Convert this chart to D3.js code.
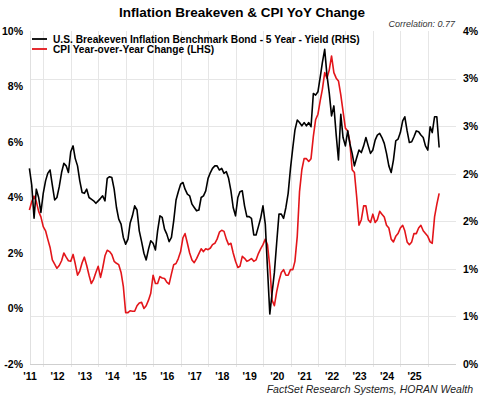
<!DOCTYPE html>
<html>
<head>
<meta charset="utf-8">
<script src="https://cdn.jsdelivr.net/npm/d3@7"></script>
<style>
  body { margin: 0; background: #fff; }
  svg { display: block; font-family: "Liberation Sans", Arial, sans-serif; }
</style>
</head>
<body>
<script>
// monthly series, first point = June 2011 (plotted at month end)
const firstMonth = [2011, 5]

// 5 year breakeven, % (right axis)
const breakeven = [
  2.35, 2.15, 1.75, 2.1, 2.0, 1.82, 2.05, 2.2, 2.29, 2.33,
  2.15, 1.97, 2.0, 2.13, 2.3, 2.41, 2.38, 2.3, 2.55, 2.62,
  2.47, 2.38, 2.2, 2.06, 2.05, 2.1, 2.0, 1.98, 1.96, 1.93,
  1.96, 1.99, 2.02, 1.96, 2.23, 2.25, 2.24, 2.1, 1.88, 1.74,
  1.68, 1.52, 1.44, 1.5, 1.69, 1.78, 1.9, 1.85, 1.6, 1.47,
  1.33, 1.25, 1.38, 1.48, 1.45, 1.37, 1.6, 1.78, 1.76, 1.62,
  1.56, 1.47, 1.52, 1.72, 1.97, 2.07, 2.16, 2.18, 2.1, 2.04,
  2.02, 1.92, 1.88, 1.84, 1.85, 2.0, 2.02, 2.08, 2.23, 2.3,
  2.35, 2.38, 2.38, 2.33, 2.35, 2.29, 2.31, 2.23, 2.08, 1.88,
  1.78, 2.0, 2.07, 2.08, 1.9, 1.77, 1.77, 1.75, 1.55, 1.55,
  1.65, 1.75, 1.9, 1.68, 1.15, 0.6, 0.85, 1.1, 1.45, 1.8,
  1.8, 1.75, 1.88, 2.05, 2.35, 2.6, 2.81, 2.93, 2.9, 2.86,
  2.9, 2.86, 2.9, 2.85, 3.25, 3.23, 3.27, 3.45, 3.62, 3.78,
  3.47, 3.25, 2.98, 3.1, 2.75, 2.45, 3.0, 2.72, 2.62, 2.8,
  2.65, 2.53, 2.38, 2.48, 2.57, 2.54, 2.62, 2.72, 2.62, 2.53,
  2.57, 2.69, 2.75, 2.77, 2.72, 2.65, 2.53, 2.38, 2.3, 2.45,
  2.68, 2.7, 2.78, 2.92, 2.97, 2.8, 2.66, 2.67, 2.73, 2.8,
  2.79, 2.75, 2.72, 2.62, 2.57, 2.85, 2.78, 2.97, 2.97, 2.6,
]

// CPI year over year, % (left axis)
const cpiYoY = [
  3.55, 3.85, 4.05, 3.85, 3.5, 3.3, 2.95, 2.8, 2.5, 2.2,
  1.75, 1.6, 1.45, 1.55, 1.72, 2.0, 1.85, 1.72, 1.7, 1.95,
  1.62, 1.2, 1.35, 1.65, 1.85, 1.55, 1.2, 0.9, 1.05, 1.3,
  1.52, 1.12, 1.45, 1.9, 2.1, 2.05, 1.95, 1.7, 1.63, 1.58,
  1.3, 0.8, -0.15, -0.15, -0.08, -0.1, -0.1, 0.1, 0.2, 0.22,
  0.0, 0.1, 0.3, 0.55, 1.2, 0.9, 0.9, 1.15, 1.1, 1.08,
  0.95, 0.88, 1.25, 1.58, 1.62, 1.8, 2.05, 2.55, 2.7, 2.35,
  2.0, 1.75, 1.65, 1.8, 1.98, 2.15, 2.05, 2.15, 2.12, 2.18,
  2.3, 2.35, 2.5, 2.75, 2.82, 2.78, 2.5, 2.3, 2.35, 2.0,
  1.7, 1.48, 1.52, 1.88, 1.81, 1.7, 1.74, 1.8, 1.7, 1.75,
  1.98, 2.15, 2.3, 2.5, 2.3, 1.5, 0.3, 0.1, 0.6, 1.0,
  1.3, 1.4, 1.2, 1.2, 1.4, 1.4, 1.7, 2.6, 4.2, 5.0,
  5.4, 5.4, 5.3, 5.4, 6.2, 6.8, 7.0, 7.5, 7.9, 8.5,
  8.3, 8.6, 9.1, 8.5, 8.3, 8.2, 7.7, 7.1, 6.5, 6.4,
  6.0, 5.0, 4.9, 4.0, 3.0, 3.2, 3.7, 3.7, 3.2, 3.1,
  3.4, 3.1, 3.2, 3.5, 3.4, 3.3, 3.0, 2.9, 2.5, 2.4,
  2.6, 2.7, 2.9, 3.0, 2.8, 2.4, 2.3, 2.4, 2.7, 2.7,
  2.9, 3.0, 2.8, 2.7, 2.6, 2.4, 2.35, 3.3, 3.75, 4.15,
]

const yearLabels = ["'11", "'12", "'13", "'14", "'15", "'16", "'17", "'18",
  "'19", "'20", "'21", "'22", "'23", "'24", "'25"]
const leftTicks = [-2, 0, 2, 4, 6, 8, 10]
const rightTicks = [0, 4 / 7, 8 / 7, 12 / 7, 16 / 7, 20 / 7, 24 / 7, 4]
const rightTickLabels = ["0%", "1%", "1%", "2%", "2%", "3%", "3%", "4%"]
const seriesNames = [
  "U.S. Breakeven Inflation Benchmark Bond - 5 Year - Yield (RHS)",
  "CPI Year-over-Year Change (LHS)",
]

function drawChart() {
  const dateAccessor = (d, i) => new Date(firstMonth[0], firstMonth[1] + i + 1, 0)

  let dimensions = {
    width: 480,
    height: 397,
    margin: { top: 31, right: 24, bottom: 33, left: 30 },
  }
  dimensions.boundedWidth = dimensions.width - dimensions.margin.left - dimensions.margin.right
  dimensions.boundedHeight = dimensions.height - dimensions.margin.top - dimensions.margin.bottom

  const wrapper = d3.select("body")
    .append("svg")
      .attr("width", dimensions.width)
      .attr("height", dimensions.height)

  const bounds = wrapper.append("g")
    .attr("transform", `translate(${dimensions.margin.left},${dimensions.margin.top})`)

  // scales
  const xScale = d3.scaleTime()
    .domain([new Date(2011, 6, 8), new Date(2027, 0, 10)])
    .range([0, dimensions.boundedWidth])

  const yLeft = d3.scaleLinear()
    .domain([-2, 10])
    .range([dimensions.boundedHeight, 0])

  const yRight = d3.scaleLinear()
    .domain([0, 4])
    .range([dimensions.boundedHeight, 0])

  // grid
  const grid = bounds.append("g").attr("stroke", "#e6e6e6").attr("stroke-width", 1)
  const yearStarts = d3.range(2012, 2027).map(y => new Date(y, 0, 1))
  grid.selectAll(".vgrid")
    .data(yearStarts)
    .join("line")
      .attr("x1", d => Math.round(xScale(d)) + 0.5)
      .attr("x2", d => Math.round(xScale(d)) + 0.5)
      .attr("y1", 0)
      .attr("y2", dimensions.boundedHeight + 3)
  grid.selectAll(".hgrid")
    .data(rightTicks.slice(1, -1))
    .join("line")
      .attr("x1", 0)
      .attr("x2", dimensions.boundedWidth)
      .attr("y1", d => Math.round(yRight(d)) + 0.5)
      .attr("y2", d => Math.round(yRight(d)) + 0.5)

  bounds.append("line")
    .attr("x1", 0).attr("x2", dimensions.boundedWidth)
    .attr("y1", dimensions.boundedHeight + 0.5).attr("y2", dimensions.boundedHeight + 0.5)
    .attr("stroke", "#cfcfcf")
  bounds.append("line")
    .attr("x1", 0.5).attr("x2", 0.5)
    .attr("y1", 0).attr("y2", dimensions.boundedHeight)
    .attr("stroke", "#e0e0e0")

  // lines
  const cpiLine = d3.line()
    .x((d, i) => xScale(dateAccessor(d, i)))
    .y(d => yLeft(d))
  const beLine = d3.line()
    .x((d, i) => xScale(dateAccessor(d, i)))
    .y(d => yRight(d))

  bounds.append("path")
    .attr("d", cpiLine(cpiYoY))
    .attr("fill", "none")
    .attr("stroke", "#e3151a")
    .attr("stroke-width", 1.6)
    .attr("stroke-linejoin", "round")

  bounds.append("path")
    .attr("d", beLine(breakeven))
    .attr("fill", "none")
    .attr("stroke", "#000")
    .attr("stroke-width", 1.6)
    .attr("stroke-linejoin", "round")

  // axes
  const styleAxis = g => {
    g.select(".domain").remove()
    g.selectAll("text")
      .attr("fill", "#000")
      .style("font-size", "10.5px")
      .style("font-weight", "bold")
  }

  bounds.append("g")
    .call(d3.axisLeft(yLeft).tickValues(leftTicks).tickSize(0).tickPadding(7)
      .tickFormat(d => d + "%"))
    .call(styleAxis)

  bounds.append("g")
    .attr("transform", `translate(${dimensions.boundedWidth},0)`)
    .call(d3.axisRight(yRight).tickValues(rightTicks).tickSize(0).tickPadding(7)
      .tickFormat((d, i) => rightTickLabels[i]))
    .call(styleAxis)

  bounds.append("g")
    .attr("transform", `translate(0,${dimensions.boundedHeight})`)
    .call(d3.axisBottom(xScale)
      .tickValues(yearLabels.map((d, i) => new Date(2011 + i, 6, 1)))
      .tickSize(0).tickPadding(9)
      .tickFormat((d, i) => yearLabels[i]))
    .call(styleAxis)

  // legend
  const legend = bounds.append("g")
  const legendColors = ["#000", "#e3151a"]
  seriesNames.forEach((name, i) => {
    const y = 8 + i * 10
    legend.append("line")
      .attr("x1", 2).attr("x2", 17)
      .attr("y1", y).attr("y2", y)
      .attr("stroke", legendColors[i])
      .attr("stroke-width", 1.8)
    legend.append("text")
      .attr("x", 23).attr("y", y)
      .attr("dy", "0.35em")
      .style("font-size", "10.2px")
      .style("font-weight", "bold")
      .text(name)
  })

  // titles
  wrapper.append("text")
    .attr("x", 242).attr("y", 17)
    .attr("text-anchor", "middle")
    .style("font-size", "13.5px")
    .style("font-weight", "bold")
    .text("Inflation Breakeven & CPI YoY Change")

  wrapper.append("text")
    .attr("x", 455).attr("y", 27)
    .attr("text-anchor", "end")
    .attr("fill", "#333")
    .style("font-size", "9px")
    .style("font-style", "italic")
    .text("Correlation: 0.77")

  wrapper.append("text")
    .attr("x", 473).attr("y", 393)
    .attr("text-anchor", "end")
    .attr("fill", "#222")
    .style("font-size", "10.5px")
    .style("font-style", "italic")
    .text("FactSet Research Systems, HORAN Wealth")
}
drawChart()
</script>
</body>
</html>
